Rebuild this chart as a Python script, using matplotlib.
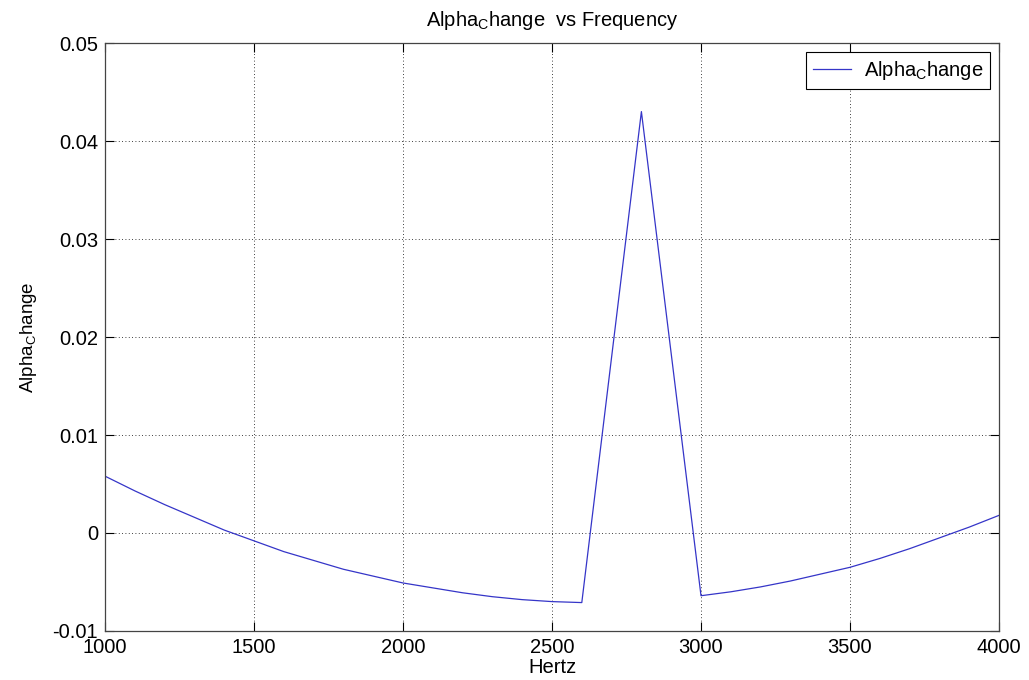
import matplotlib
matplotlib.use("Agg")
import matplotlib.pyplot as plt

plt.rcParams['font.family'] = ['Liberation Sans', 'DejaVu Sans']
plt.rcParams['mathtext.fontset'] = 'custom'
plt.rcParams['mathtext.rm'] = 'Liberation Sans'

# частоты (Гц) и значения кривой
hertz = [1000, 1100, 1200, 1300, 1400, 1500, 1600, 1700, 1800, 1900,
         2000, 2100, 2200, 2300, 2400, 2500, 2600, 2800, 3000, 3100,
         3200, 3300, 3400, 3500, 3600, 3700, 3800, 3900, 4000]
alpha_change = [0.0058, 0.0043, 0.0029, 0.0016, 0.0003, -0.0008, -0.0019, -0.0028, -0.0037, -0.0044,
                -0.0051, -0.0056, -0.0061, -0.0065, -0.0068, -0.0070, -0.0071, 0.0430, -0.0064, -0.0060,
                -0.0055, -0.0049, -0.0042, -0.0035, -0.0026, -0.0016, -0.0005, 0.0006, 0.0018]

x_ticks = [1000, 1500, 2000, 2500, 3000, 3500, 4000]
y_ticks = [-0.01, 0, 0.01, 0.02, 0.03, 0.04, 0.05]
y_labels = ['-0.01', '0', '0.01', '0.02', '0.03', '0.04', '0.05']

label = r'Alpha$_{\mathrm{C}}$hange'
fs = 14.5

fig = plt.figure(figsize=(10.29, 6.8), dpi=100)
ax = fig.add_axes([105 / 1029, 1 - 631 / 680, 894 / 1029, 588 / 680])

ax.plot(hertz, alpha_change, color='#3535c8', lw=0.9, label=label)

ax.set_xlim(1000, 4000)
ax.set_ylim(-0.01, 0.05)
ax.set_xticks(x_ticks)
ax.set_xticklabels([str(t) for t in x_ticks])
ax.set_yticks(y_ticks)
ax.set_yticklabels(y_labels)
ax.tick_params(direction='in', top=True, right=True, length=6.5, width=0.8,
               labelsize=fs, pad=5)
ax.grid(True, linestyle=(0, (1, 3)), color='black', lw=0.6)
for s in ax.spines.values():
    s.set_color('#444444')
    s.set_linewidth(0.9)

ax.set_title(label + '  vs Frequency', fontsize=fs, pad=12)
ax.set_xlabel('Hertz', fontsize=fs, labelpad=1)
ax.set_ylabel(label, fontsize=13.5, labelpad=10)

leg = ax.legend(loc='upper right', bbox_to_anchor=(0.99, 0.985), borderaxespad=0,
                fancybox=False, framealpha=1, edgecolor='black', fontsize=fs,
                handlelength=1.9, handletextpad=0.6, borderpad=0.35)
leg.get_frame().set_linewidth(0.8)

fig.savefig('out.png', dpi=100)
